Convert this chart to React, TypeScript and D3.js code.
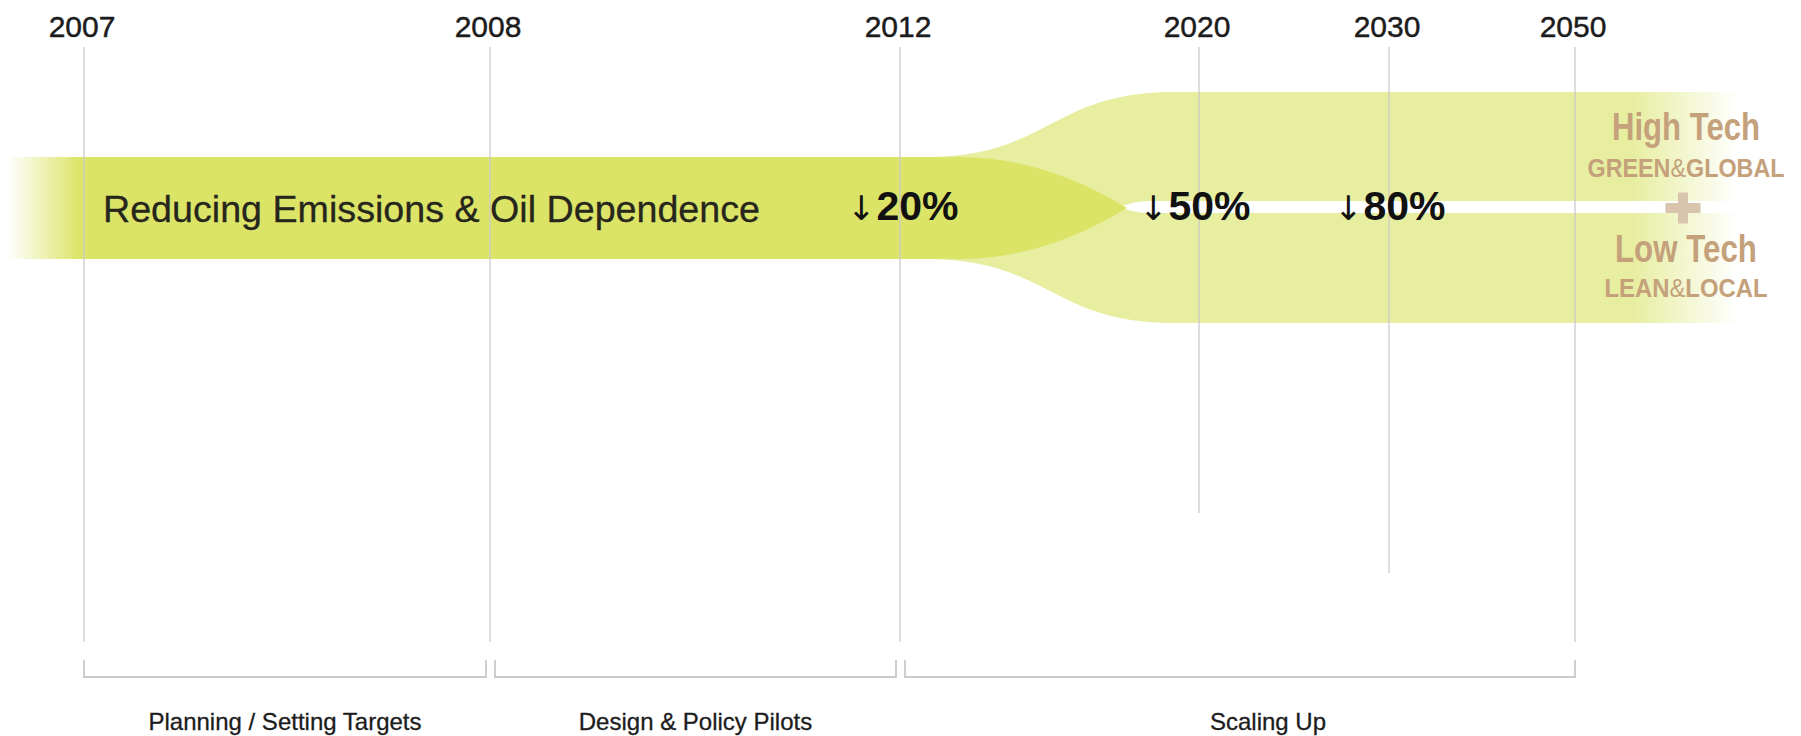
import React from "react";
import * as d3 from "d3";

// ---------- data ----------
const years = [2007, 2008, 2012, 2020, 2030, 2050];
const yearLabels = ["2007", "2008", "2012", "2020", "2030", "2050"];
const phaseLabels = ["Planning / Setting Targets", "Design & Policy Pilots", "Scaling Up"];
const phaseStart = [2007, 2008, 2012];
const phaseEnd = [2008, 2012, 2050];
const reductionYears = [2012, 2020, 2030];
const reductionLabels = ["20%", "50%", "80%"];
const mainLabel = "Reducing Emissions & Oil Dependence";
const scenarioTitles = ["High Tech", "Low Tech"];
const scenarioSubA = ["GREEN", "LEAN"];
const scenarioSubB = ["GLOBAL", "LOCAL"];

// ---------- layout ----------
const W = 1801;
const H = 736;
const YEAR_PX = [84, 490, 900, 1199, 1389, 1575];
const LINE_TOP = 47;
const LINE_BOTTOM = [642, 642, 642, 513, 573, 642];
const REDUCTION_DX = [-53, -60, -55];
const BAND_TOP = 157;
const BAND_BOT = 259;
const BAND_MID = 208;
const BRANCH_TOP = 92;
const BRANCH_BOT = 323;
const GAP_TOP = 201;
const GAP_BOT = 213;
const SPLIT_START = 925;
const SPLIT_END = 1175;
const TAPER_START = 960;
const TAPER_TIP = 1127;
const DARK = "#dbe467";
const LIGHT = "#e7eea0";
const TAN = "#c4a17b";
const TAN_LIGHT = "#d9c4ad";
const GRID = "#c9c9c9";
const INK = "#1c1c1c";
const FONT = "'Liberation Sans', Arial, Helvetica, sans-serif";

const x = d3.scaleLinear().domain(years).range(YEAR_PX);

export default function App() {
  const envelope = d3
    .area<{ px: number; top: number; bot: number }>()
    .x((d) => d.px)
    .y0((d) => d.bot)
    .y1((d) => d.top)
    .curve(d3.curveBumpX)([
    { px: SPLIT_START, top: BAND_TOP, bot: BAND_BOT },
    { px: SPLIT_END, top: BRANCH_TOP, bot: BRANCH_BOT },
    { px: W, top: BRANCH_TOP, bot: BRANCH_BOT },
  ]) as string;

  const mid = (TAPER_START + TAPER_TIP) / 2;
  const dp = d3.path();
  dp.moveTo(0, BAND_TOP);
  dp.lineTo(TAPER_START, BAND_TOP);
  dp.quadraticCurveTo(mid, BAND_TOP, TAPER_TIP, BAND_MID);
  dp.quadraticCurveTo(mid, BAND_BOT, TAPER_START, BAND_BOT);
  dp.lineTo(0, BAND_BOT);
  dp.closePath();

  const gmid = (GAP_TOP + GAP_BOT) / 2;
  const gp = d3.path();
  gp.moveTo(TAPER_TIP - 8, gmid);
  gp.quadraticCurveTo(TAPER_TIP + 8, GAP_TOP, TAPER_TIP + 22, GAP_TOP);
  gp.lineTo(W, GAP_TOP);
  gp.lineTo(W, GAP_BOT);
  gp.lineTo(TAPER_TIP + 22, GAP_BOT);
  gp.quadraticCurveTo(TAPER_TIP + 8, GAP_BOT, TAPER_TIP - 8, gmid);
  gp.closePath();

  const scenX = 1686;
  const titleW = [148, 142];
  const subW = [197, 163];
  const titleY = [140, 262];
  const subY = [177, 297];

  // plus sign geometry
  const pcx = 1683;
  const pcy = 208;
  const pw = 35;
  const ph = 31;
  const pt = 10;

  return (
    <svg
      width={W}
      height={H}
      viewBox={`0 0 ${W} ${H}`}
      style={{ position: "absolute", left: 0, top: 0, display: "block", background: "#fff" }}
      fontFamily={FONT}
    >
      <defs>
        <linearGradient id="darkFade" gradientUnits="userSpaceOnUse" x1={0} y1={0} x2={W} y2={0}>
          <stop offset={8 / W} stopColor={DARK} stopOpacity={0} />
          <stop offset={80 / W} stopColor={DARK} stopOpacity={1} />
          <stop offset={1} stopColor={DARK} stopOpacity={1} />
        </linearGradient>
        <linearGradient id="lightFade" gradientUnits="userSpaceOnUse" x1={0} y1={0} x2={W} y2={0}>
          <stop offset={0} stopColor={LIGHT} stopOpacity={1} />
          <stop offset={1632 / W} stopColor={LIGHT} stopOpacity={1} />
          <stop offset={1738 / W} stopColor={LIGHT} stopOpacity={0} />
          <stop offset={1} stopColor={LIGHT} stopOpacity={0} />
        </linearGradient>
      </defs>
      <rect x={0} y={0} width={W} height={H} fill="#fff" />

      {/* bands */}
      <path d={envelope} fill="url(#lightFade)" />
      <path d={gp.toString()} fill="#fff" />
      <path d={dp.toString()} fill="url(#darkFade)" />

      {/* year lines */}
      {years.map((yr, i) => (
        <line
          key={"l" + yr}
          x1={x(yr)}
          x2={x(yr)}
          y1={LINE_TOP}
          y2={LINE_BOTTOM[i]}
          stroke={GRID}
          strokeWidth={1.5}
          strokeOpacity={0.85}
        />
      ))}

      {/* year labels */}
      {years.map((yr, i) => (
        <text
          key={"t" + yr}
          x={x(yr) - 2}
          y={37}
          textAnchor="middle"
          fontSize={30}
          fill={INK}
          stroke={INK}
          strokeWidth={0.45}
        >
          {yearLabels[i]}
        </text>
      ))}

      {/* main label */}
      <text
        x={103}
        y={222}
        fontSize={37.5}
        fill="#26261c"
        stroke="#26261c"
        strokeWidth={0.3}
        textLength={657}
        lengthAdjust="spacingAndGlyphs"
      >
        {mainLabel}
      </text>

      {/* reductions */}
      {reductionYears.map((yr, i) => (
        <text key={"r" + yr} x={x(yr) + REDUCTION_DX[i]} y={220} fill="#111">
          <tspan fontSize={34} fontFamily="'DejaVu Sans', sans-serif">↓</tspan>
          <tspan dx={1} fontSize={41} fontWeight="bold">
            {reductionLabels[i]}
          </tspan>
        </text>
      ))}

      {/* scenarios */}
      {scenarioTitles.map((t, i) => (
        <g key={"s" + i}>
          <text
            x={scenX - titleW[i] / 2}
            y={titleY[i]}
            fontSize={38}
            fontWeight="bold"
            fill={TAN}
            textLength={titleW[i]}
            lengthAdjust="spacingAndGlyphs"
          >
            {t}
          </text>
          <text
            x={scenX - subW[i] / 2}
            y={subY[i]}
            fontSize={25}
            fontWeight="bold"
            fill={TAN}
            textLength={subW[i]}
            lengthAdjust="spacingAndGlyphs"
          >
            {scenarioSubA[i]}
            <tspan fontWeight="normal">&amp;</tspan>
            {scenarioSubB[i]}
          </text>
        </g>
      ))}
      <g fill={TAN_LIGHT}>
        <rect x={pcx - pw / 2} y={pcy - pt / 2} width={pw} height={pt} />
        <rect x={pcx - pt / 2} y={pcy - ph / 2} width={pt} height={ph} />
      </g>

      {/* phase brackets */}
      {phaseLabels.map((p, i) => {
        const x0 = x(phaseStart[i]) + (i > 0 ? 5 : 0);
        const x1 = x(phaseEnd[i]) - (i < phaseLabels.length - 1 ? 4 : 0);
        const cx = i === 2 ? (x0 + x1) / 2 + 28 : (x0 + x1) / 2;
        return (
          <g key={"p" + i}>
            <path
              d={`M${x0},660V677H${x1}V660`}
              fill="none"
              stroke={GRID}
              strokeWidth={1.8}
            />
            <text
              x={cx}
              y={730}
              textAnchor="middle"
              fontSize={24}
              fill={INK}
              stroke={INK}
              strokeWidth={0.3}
            >
              {p}
            </text>
          </g>
        );
      })}
    </svg>
  );
}
